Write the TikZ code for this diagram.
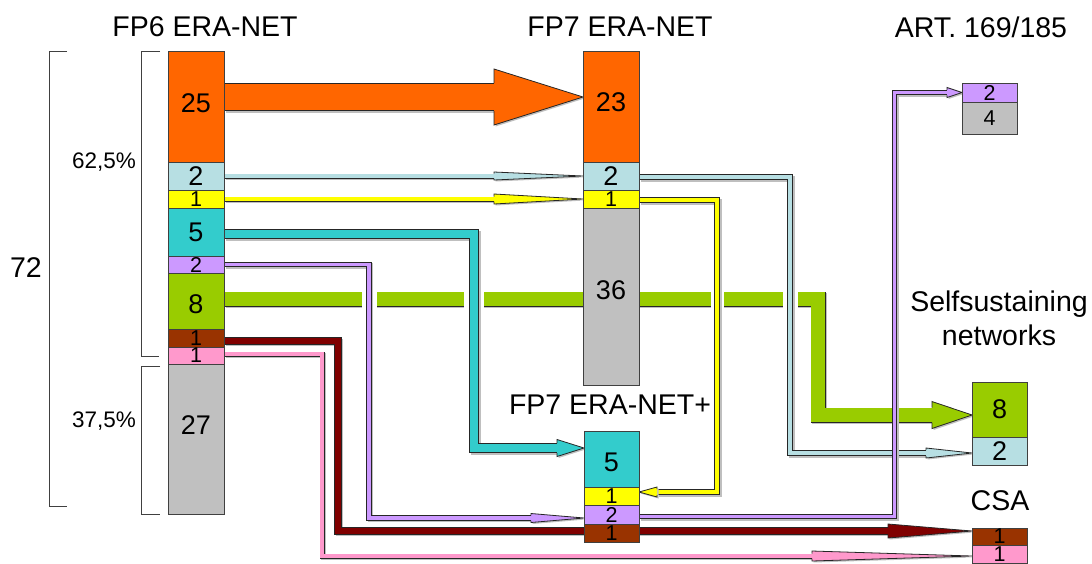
\documentclass[tikz,border=0pt]{standalone}
\usepackage{fontspec}
\setmainfont{Liberation Sans}
\usetikzlibrary{calc,backgrounds}
\definecolor{orng}{HTML}{FF6600}
\definecolor{lblue}{HTML}{B7DFE3}
\definecolor{yel}{HTML}{FFFF00}
\definecolor{cyn}{HTML}{33CCCC}
\definecolor{lav}{HTML}{CC99FF}
\definecolor{grn}{HTML}{99CC00}
\definecolor{brn}{HTML}{993300}
\definecolor{dred}{HTML}{800000}
\definecolor{pnk}{HTML}{FF99CC}
\definecolor{gry}{HTML}{C0C0C0}
\newcommand\ftitle{\fontsize{28.5}{34}\selectfont}
\newcommand\fbig{\fontsize{27}{30}\selectfont}
\newcommand\fsmall{\fontsize{21.5}{24}\selectfont}
\newcommand\fpct{\fontsize{22.5}{26}\selectfont}
% band: #1 colour, #2 total width, #3 path
\newcommand\band[3]{%
  \draw[line width=#2pt, black!25, line join=miter, transform canvas={shift={(1.5pt,-1.5pt)}}] #3;
  \draw[line width=#2pt, black!85, line join=miter] #3;
  \draw[line width=#2pt-1.6pt, #1, line join=miter] #3;}
% arrow head: #1 colour, #2 tip, #3 length, #4 half width, #5 half shaft
\newcommand\ahead[5]{%
  \fill[black!25, transform canvas={shift={(1.5pt,-1.5pt)}}] (#2) -- ++({-1*(#3)},#4) -- ++(0,{-2*(#4)}) -- cycle;
  \fill[#1] (#2) -- ++({-1*(#3)},#4) -- ++(0,{-2*(#4)}) -- cycle;
  \draw[line width=0.8pt, black!85, line join=miter] ($(#2)+({-1*(#3)},#5)$) -- ++(0,{#4-#5}) -- (#2) -- ++({-1*(#3)},{-1*(#4)}) -- ++(0,{#4-#5});}
\tikzset{
  seg/.style={draw=black!75, line width=0.9pt, inner sep=0pt, outer sep=0pt, anchor=north west, minimum width=56pt},
  big/.style={font=\fbig, inner sep=0pt},
  sml/.style={font=\fsmall, inner sep=0pt},
  ttl/.style={font=\ftitle, inner sep=0pt, align=center},
  pct/.style={font=\fpct, inner sep=0pt},
  brk/.style={draw=black!75, line width=1pt},
  halo/.style={draw=white, line width=#1},
}
\begin{document}
\begin{tikzpicture}[x=1pt, y=-1pt]
\useasboundingbox (0,0) rectangle (1092,563);

% titles
\node[ttl] (tfp6) at (205,27) {FP6 ERA-NET};
\node[ttl] (tfp7) at (620,27) {FP7 ERA-NET};
\node[ttl] (tart) at (981,27) {ART. 169/185};
\node[ttl] (tself) at (999,318) {Selfsustaining\\networks};
\node[ttl] (tplus) at (610,405) {FP7 ERA-NET+};
\node[ttl] (tcsa) at (1000,501) {CSA};
\node[ttl] (t72) at (26,268) {72};
\node[pct] (t625) at (104,162) {62,5\%};
\node[pct] (t375) at (104,421) {37,5\%};

% brackets
\draw[brk] (67,51) -- (49,51) -- (49,506) -- (67,506);
\draw[brk] (160,51) -- (141,51) -- (141,356) -- (159,356);
\draw[brk] (160,366) -- (141,366) -- (141,514) -- (160,514);

% boxes
\node[seg, fill=orng, minimum height=111pt, label={[big,yshift=3pt]center:25}] (fp6o) at (168,51) {};
\node[seg, fill=lblue, minimum height=28pt, label={[big]center:2}] (fp6b) at (168,162) {};
\node[seg, fill=yel, minimum height=18pt, label={[sml]center:1}] (fp6y) at (168,190) {};
\node[seg, fill=cyn, minimum height=48pt, label={[big]center:5}] (fp6c) at (168,208) {};
\node[seg, fill=lav, minimum height=17pt, label={[sml]center:2}] (fp6l) at (168,256) {};
\node[seg, fill=grn, minimum height=56pt, label={[big,yshift=-3pt]center:8}] (fp6g) at (168,273) {};
\node[seg, fill=brn, minimum height=18pt, label={[sml]center:1}] (fp6r) at (168,329) {};
\node[seg, fill=pnk, minimum height=17pt, label={[sml]center:1}] (fp6p) at (168,347) {};
\node[seg, fill=gry, minimum height=150pt, label={[big,yshift=14pt]center:27}] (fp6s) at (168,364) {};
\node[seg, fill=orng, minimum height=111pt, label={[big,yshift=4pt]center:23}] (fp7o) at (583,51) {};
\node[seg, fill=lblue, minimum height=28pt, label={[big]center:2}] (fp7b) at (583,162) {};
\node[seg, fill=yel, minimum height=18pt, label={[sml]center:1}] (fp7y) at (583,190) {};
\node[seg, fill=gry, minimum height=177pt, label={[big,yshift=6pt]center:36}] (fp7s) at (583,208) {};
\node[seg, fill=cyn, minimum width=55pt, minimum height=56pt, label={[big,yshift=-3pt]center:5}] (fppc) at (584,431) {};
\node[seg, fill=yel, minimum width=55pt, minimum height=18pt, label={[sml]center:1}] (fppy) at (584,487) {};
\node[seg, fill=lav, minimum width=55pt, minimum height=19pt, label={[sml]center:2}] (fppl) at (584,505) {};
\node[seg, fill=brn, minimum width=55pt, minimum height=18pt, label={[sml]center:1}] (fppr) at (584,524) {};
\node[seg, fill=lav, minimum width=55pt, minimum height=19pt, label={[sml]center:2}] (artl) at (962,83) {};
\node[seg, fill=gry, minimum width=55pt, minimum height=32pt, label={[sml]center:4}] (arts) at (962,102) {};
\node[seg, fill=grn, minimum width=55pt, minimum height=55pt, label={[big]center:8}] (slfg) at (972,382) {};
\node[seg, fill=lblue, minimum width=55pt, minimum height=28pt, label={[big]center:2}] (slfb) at (972,437) {};
\node[seg, fill=brn, minimum width=55pt, minimum height=17pt, label={[sml]center:1}] (csar) at (972,528) {};
\node[seg, fill=pnk, minimum width=55pt, minimum height=18pt, label={[sml]center:1}] (csap) at (972,545) {};

% tips
\coordinate (tO) at (fp7o.west |- 0,97);
\coordinate (tB) at (fp7b.west);
\coordinate (tY) at (fp7y.west);
\coordinate (tG) at (slfg.west |- 0,415);
\coordinate (tC) at (fppc.west |- 0,448);
\coordinate (tL) at (fppl.west |- 0,518);
\coordinate (tA) at (artl.west);
\coordinate (tS) at (slfb.west |- 0,453);
\coordinate (tY2) at (fppy.east |- 0,492);
\coordinate (tR) at (csar.west |- 0,531);
\coordinate (tP) at (csap.west |- 0,556);

\begin{pgfonlayer}{background}
% green (under everything)
\band{grn}{15}{(fp6g.east |- 0,299) -| (818,415) -- ($(tG)+(-40,0)$)}
\ahead{grn}{tG}{40}{13.5}{7.5}
% gaps in the green band where other flows pass
\draw[halo=15pt] (369,287) -- (369,312);
\draw[halo=20pt] (474,287) -- (474,312);
\draw[halo=13pt] (717,287) -- (717,312);
\draw[halo=15pt] (790,287) -- (790,312);

% orange
\band{orng}{28}{(fp6o.east |- tO) -- ($(tO)+(-89,0)$)}
\ahead{orng}{tO}{89}{28}{14}
% light blue FP6 -> FP7
\band{lblue}{5}{(fp6b.east) -- ($(tB)+(-89,0)$)}
\ahead{lblue}{tB}{89}{4}{2.5}
% yellow FP6 -> FP7
\band{yel}{5}{(fp6y.east) -- ($(tY)+(-89,0)$)}
\ahead{yel}{tY}{89}{5}{2.5}
% cyan FP6 -> FP7+
\band{cyn}{10}{(fp6c.east |- 0,234) -| (474,448) -- ($(tC)+(-27,0)$)}
\ahead{cyn}{tC}{27}{8.5}{5}
% lavender FP6 -> FP7+
\band{lav}{5.5}{(fp6l.east) -| (369,518) -- ($(tL)+(-53,0)$)}
\ahead{lav}{tL}{53}{4.5}{2.75}
% brown FP6 -> CSA
\band{dred}{7.5}{(fp6r.east |- 0,341) -| (338,531) -- ($(tR)+(-84,0)$)}
\ahead{dred}{tR}{84}{7}{3.75}
% pink FP6 -> CSA
\band{pnk}{5}{(fp6p.east |- 0,354) -| (322,556) -- ($(tP)+(-160,0)$)}
\ahead{pnk}{tP}{160}{5}{2.5}
% yellow FP7 -> FP7+
\band{yel}{6}{(fp7y.east |- 0,200) -| (717,492) -- ($(tY2)+(18,0)$)}
\ahead{yel}{tY2}{-18}{5}{3}
% light blue FP7 -> Self
\band{lblue}{6}{(fp7b.east |- 0,177) -| (790,453) -- ($(tS)+(-46,0)$)}
\ahead{lblue}{tS}{46}{5}{3}
% lavender FP7+ -> ART
\band{lav}{5.5}{(fppl.east |- 0,516.5) -| (894.5,92.5) -- ($(tA)+(-15,0)$)}
\ahead{lav}{tA}{15}{5}{2.75}
\end{pgfonlayer}
\end{tikzpicture}
\end{document}
